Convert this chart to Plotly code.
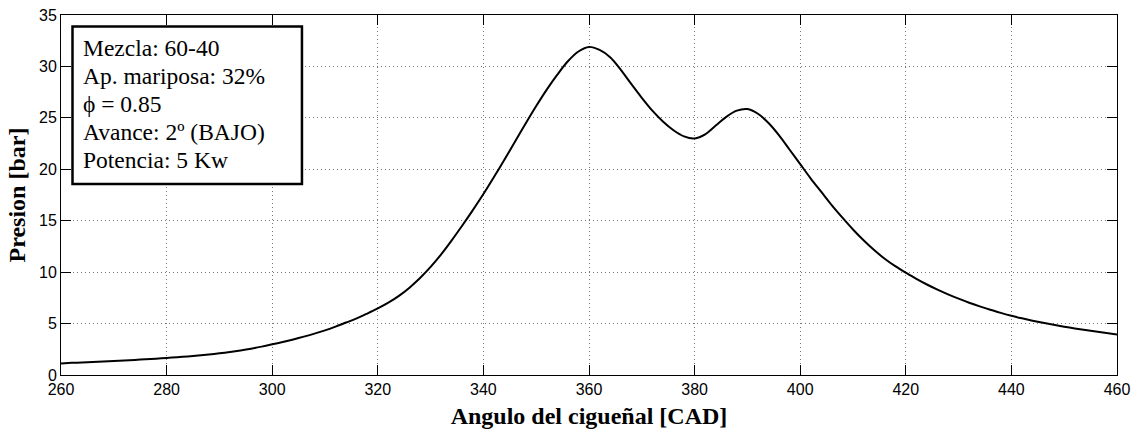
import plotly.graph_objects as go

# Crank angle [CAD] (every 2 degrees) and pressure [bar]
angle = list(range(260, 461, 2))
pressure = [
    1.13, 1.18, 1.22, 1.27, 1.32, 1.37, 1.42, 1.47, 1.53, 1.59,      # 260-278
    1.66, 1.73, 1.81, 1.90, 2.00, 2.11, 2.24, 2.39, 2.56, 2.76,      # 280-298
    2.98, 3.21, 3.46, 3.73, 4.02, 4.34, 4.70, 5.10, 5.50, 5.97,      # 300-318
    6.47, 7.03, 7.69, 8.49, 9.43, 10.51, 11.73, 13.09, 14.53, 16.03, # 320-338
    17.59, 19.25, 20.95, 22.70, 24.45, 26.15, 27.75, 29.20, 30.50, 31.45,  # 340-358
    31.90, 31.60, 30.90, 29.70, 28.30, 26.95, 25.70, 24.65, 23.80, 23.20,  # 360-378
    23.00, 23.40, 24.25, 25.10, 25.70, 25.85, 25.40, 24.50, 23.30, 21.90,  # 380-398
    20.50, 19.10, 17.80, 16.50, 15.30, 14.15, 13.10, 12.15, 11.30, 10.58,  # 400-418
    9.95, 9.35, 8.80, 8.30, 7.84, 7.42, 7.03, 6.67, 6.34, 6.04,      # 420-438
    5.76, 5.51, 5.28, 5.07, 4.88, 4.70, 4.53, 4.37, 4.22, 4.08,      # 440-458
    3.94,                                                            # 460
]

x_ticks = [260, 280, 300, 320, 340, 360, 380, 400, 420, 440, 460]
y_ticks = [0, 5, 10, 15, 20, 25, 30, 35]

info_lines = ["Mezcla: 60-40", "Ap. mariposa: 32%", "ϕ = 0.85",
              "Avance: 2º (BAJO)", "Potencia: 5 Kw"]

W, H = 1139, 431
L, R, T, B = 60.5, 22.3, 15, 56
pw, ph = W - L - R, H - T - B

def px_x(p):
    return (p - L) / pw

def px_y(p):
    return (H - B - p) / ph

fig = go.Figure()
fig.add_trace(go.Scatter(x=angle, y=pressure, mode="lines",
                         line=dict(color="black", width=2, shape="spline", smoothing=0.9),
                         showlegend=False, hoverinfo="x+y"))

axis_common = dict(showline=True, linecolor="black", linewidth=1, mirror="ticks",
                   ticks="inside", ticklen=10, tickcolor="black", tickwidth=1,
                   showgrid=True, gridcolor="#777777", griddash="1px,3px", gridwidth=1,
                   zeroline=False,
                   tickfont=dict(family="Liberation Sans, Arial", size=16, color="black"))

title_font = dict(family="Liberation Serif, Times New Roman", size=24, color="black")

fig.update_xaxes(range=[260, 460], tickvals=x_ticks, ticktext=[str(v) for v in x_ticks],
                 title=dict(text="<b>Angulo del cigueñal [CAD]</b>", font=title_font, standoff=9),
                 **axis_common)
fig.update_yaxes(range=[0, 35], tickvals=y_ticks, ticktext=[str(v) for v in y_ticks],
                 title=dict(text="<b>Presion [bar]</b>", font=title_font, standoff=6),
                 **axis_common)

fig.add_shape(type="rect", xref="paper", yref="paper",
              x0=px_x(72), x1=px_x(301.5), y0=px_y(184), y1=px_y(26.5),
              line=dict(color="black", width=2.5), fillcolor="white", layer="above")

for i, line in enumerate(info_lines):
    fig.add_annotation(xref="paper", yref="paper", x=px_x(81), y=px_y(47.5 + 28.2 * i),
                       xanchor="left", yanchor="middle", align="left", showarrow=False,
                       text=line,
                       font=dict(family="Liberation Serif, Times New Roman", size=23.5, color="black"))

fig.update_layout(width=W, height=H, margin=dict(l=L, r=R, t=T, b=B, autoexpand=False),
                  plot_bgcolor="white", paper_bgcolor="white")

fig.write_html("out.html")
